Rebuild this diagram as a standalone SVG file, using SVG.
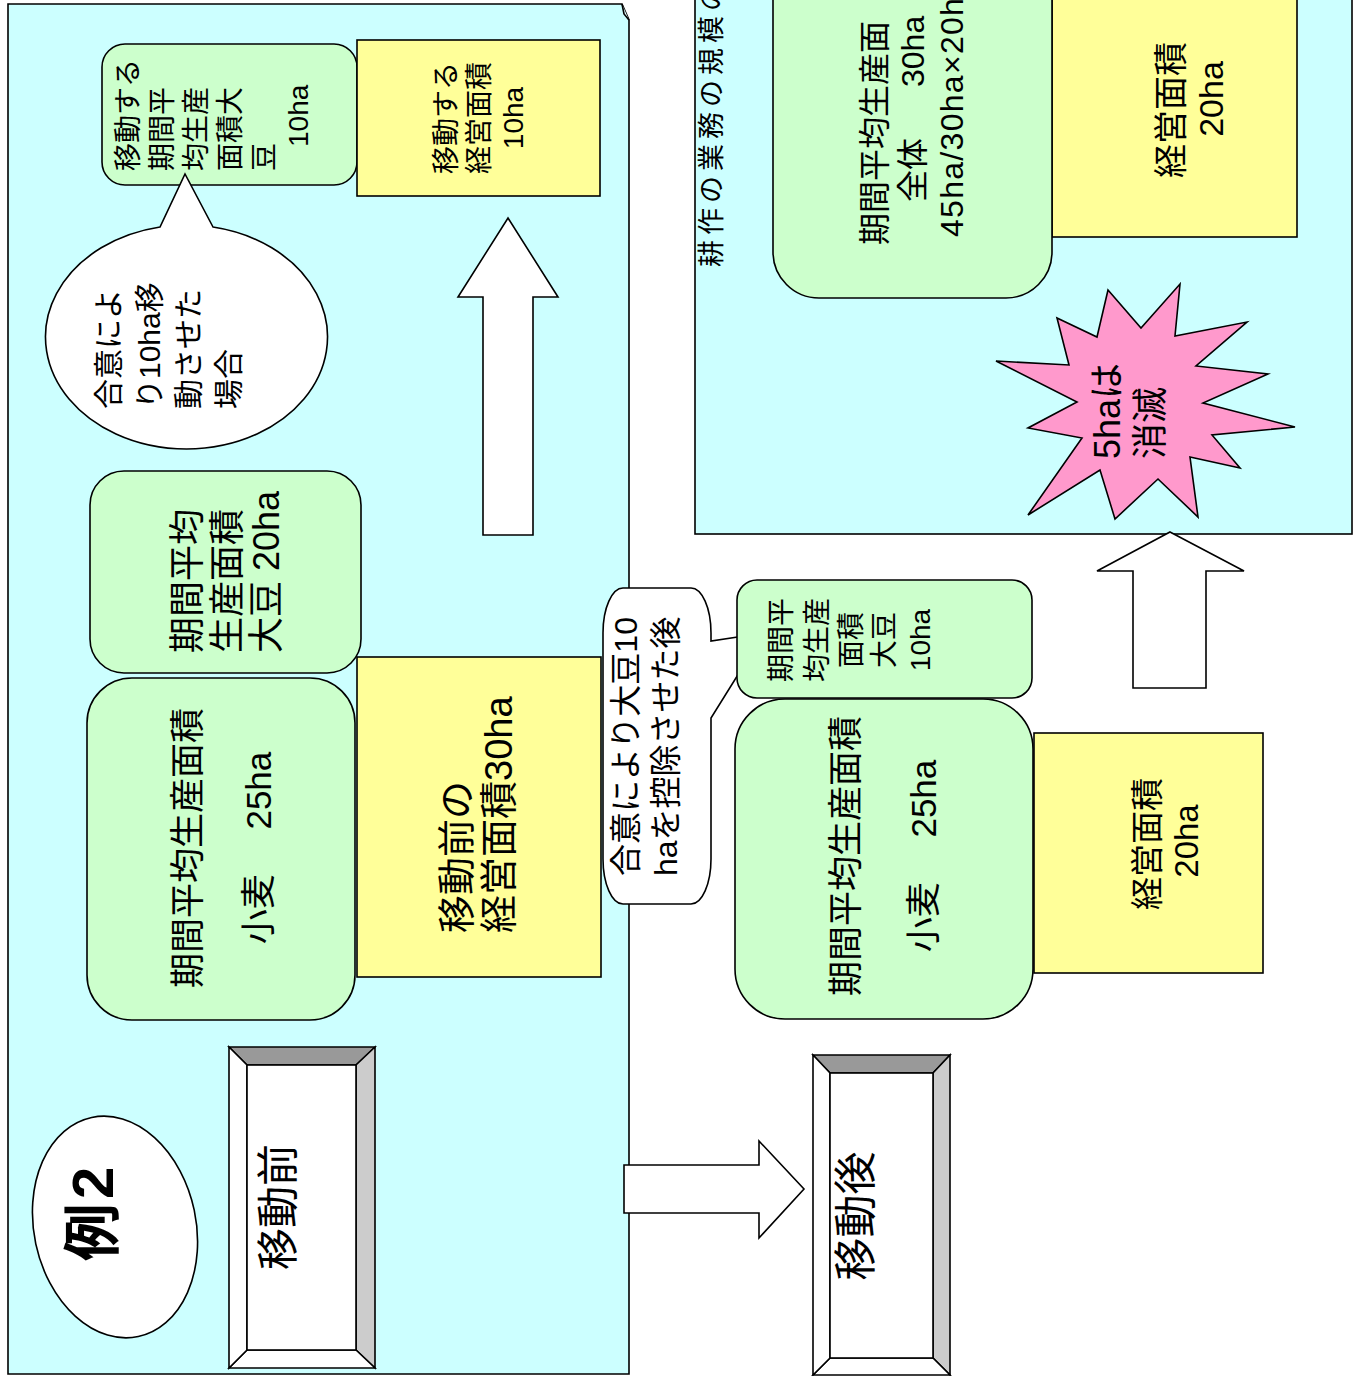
<svg xmlns="http://www.w3.org/2000/svg" width="1356" height="1376" viewBox="0 0 1356 1376">
<style>
.cy{fill:#ccffff;stroke:#000;stroke-width:1.6}
.gr{fill:#ccffcc;stroke:#000;stroke-width:1.6}
.ye{fill:#ffff99;stroke:#000;stroke-width:1.6}
.wh{fill:#ffffff;stroke:#000;stroke-width:1.6}
.pk{fill:#ff99cc;stroke:#000;stroke-width:1.6}
.dk{fill:#999999;stroke:#000;stroke-width:1.6}
.lt{fill:#cccccc;stroke:#000;stroke-width:1.6}
text{font-family:"Liberation Sans","Noto Sans CJK JP",sans-serif;fill:#000;dominant-baseline:central}
.m{text-anchor:middle}
</style>
<rect width="1356" height="1376" fill="#ffffff"/>

<g id="panel-before">
<path class="cy" d="M8,4 H622 L629,20 V1374 H8 Z"/>
<path d="M622,4 L624,14 L629,20" fill="#e6ffff" stroke="#000" stroke-width="1.6"/>
</g>

<g id="panel-after">
<rect class="cy" x="695" y="-10" width="657" height="544"/>
<text font-size="27" letter-spacing="5" transform="rotate(-90)" x="-267" y="712">耕作の業務の規模の</text>
</g>

<g id="node-move-soy-prod">
<rect class="gr" x="102" y="44" width="255" height="141" rx="23"/>
<text font-size="28" transform="rotate(-90)"><tspan x="-171" y="128">移動する</tspan><tspan x="-171" y="162">期間平</tspan><tspan x="-171" y="196">均生産</tspan><tspan x="-171" y="230">面積大</tspan><tspan x="-171" y="264">豆</tspan><tspan x="-147" y="298">10ha</tspan></text>
</g>

<g id="node-move-mgmt">
<rect class="ye" x="357" y="40" width="243" height="156"/>
<text class="m" font-size="28" transform="rotate(-90)"><tspan x="-118" y="446">移動する</tspan><tspan x="-118" y="479">経営面積</tspan><tspan x="-118" y="513">10ha</tspan></text>
</g>

<g id="node-callout-agree">
<path class="wh" d="M213,227 L185,174 L160,227 A141,112 0 1 0 213,227 Z"/>
<text font-size="30" transform="rotate(-90)"><tspan x="-409" y="108">合意によ</tspan><tspan x="-409" y="149">り10ha移</tspan><tspan x="-409" y="188">動させた</tspan><tspan x="-409" y="228">場合</tspan></text>
</g>

<g id="node-before-mgmt">
<rect class="ye" x="357" y="657" width="244" height="320"/>
<text font-size="38" transform="rotate(-90)"><tspan x="-933" y="457">移動前の</tspan><tspan x="-933" y="499">経営面積30ha</tspan></text>
</g>

<g id="node-before-soy">
<rect class="gr" x="90" y="471" width="271" height="202" rx="34"/>
<text font-size="36" transform="rotate(-90)"><tspan x="-653" y="187">期間平均</tspan><tspan x="-653" y="227">生産面積</tspan><tspan x="-653" y="266">大豆  20ha</tspan></text>
</g>

<g id="node-before-wheat">
<rect class="gr" x="87" y="678" width="268" height="342" rx="45"/>
<text class="m" font-size="35" transform="rotate(-90)"><tspan x="-848" y="187">期間平均生産面積</tspan><tspan x="-848" y="258">小麦　 25ha</tspan></text>
</g>

<g id="node-example">
<ellipse class="wh" cx="115" cy="1227" rx="81" ry="112" transform="rotate(-12 115 1227)"/>
<text class="m" font-size="58" font-weight="bold" letter-spacing="4" transform="rotate(-90)" x="-1212" y="92">例2</text>
</g>

<g id="node-label-before">
<polygon class="dk" points="229,1047 375,1047 356,1065 247,1065"/>
<polygon class="lt" points="375,1047 375,1368 356,1350 356,1065"/>
<polygon class="wh" points="229,1368 375,1368 356,1350 247,1350"/>
<polygon class="wh" points="229,1047 247,1065 247,1350 229,1368"/>
<rect class="wh" x="247" y="1065" width="109" height="285"/>
<text class="m" font-size="42" transform="rotate(-90)" x="-1207" y="278">移動前</text>
</g>

<g id="node-callout-after">
<path class="wh" d="M623,588 H691 A20,45 0 0 1 711,633 V641 L764,633 L711,718 V859 A20,45 0 0 1 691,904 H623 A20,45 0 0 1 603,859 V633 A20,45 0 0 1 623,588 Z"/>
<text font-size="32" transform="rotate(-90)"><tspan x="-876" y="626">合意により大豆10</tspan><tspan x="-876" y="666">haを控除させた後</tspan></text>
</g>

<g id="node-after-soy">
<rect class="gr" x="737" y="580" width="295" height="118" rx="20"/>
<text class="m" font-size="28" transform="rotate(-90)"><tspan x="-640" y="781">期間平</tspan><tspan x="-640" y="817">均生産</tspan><tspan x="-640" y="851">面積</tspan><tspan x="-640" y="884">大豆</tspan><tspan x="-640" y="920">10ha</tspan></text>
</g>

<g id="node-after-wheat">
<rect class="gr" x="735" y="699" width="298" height="320" rx="50"/>
<text class="m" font-size="35" transform="rotate(-90)"><tspan x="-856" y="845">期間平均生産面積</tspan><tspan x="-856" y="923">小麦　 25ha</tspan></text>
</g>

<g id="node-after-mgmt">
<rect class="ye" x="1034" y="733" width="229" height="240"/>
<text class="m" font-size="33" transform="rotate(-90)"><tspan x="-844" y="1147">経営面積</tspan><tspan x="-841" y="1186">20ha</tspan></text>
</g>

<g id="node-label-after">
<polygon class="dk" points="813,1055 950,1055 933,1073 830,1073"/>
<polygon class="lt" points="950,1055 950,1375 933,1358 933,1073"/>
<polygon class="wh" points="813,1375 950,1375 933,1358 830,1358"/>
<polygon class="wh" points="813,1055 830,1073 830,1358 813,1375"/>
<rect class="wh" x="830" y="1073" width="103" height="285"/>
<text class="m" font-size="43" transform="rotate(-90)" x="-1216" y="856">移動後</text>
</g>

<g id="node-result-mgmt">
<rect class="ye" x="1052" y="-20" width="245" height="257"/>
<text class="m" font-size="34" transform="rotate(-90)"><tspan x="-110" y="1171">経営面積</tspan><tspan x="-99" y="1211">20ha</tspan></text>
</g>

<g id="node-result-prod">
<rect class="gr" x="773" y="-60" width="279" height="358" rx="46"/>
<text font-size="32" transform="rotate(-90)"><tspan x="-245" y="875">期間平均生産面</tspan><tspan x="-202" y="913">全体</tspan><tspan x="-87" y="913">30ha</tspan><tspan x="-237" y="952" textLength="258" lengthAdjust="spacing">45ha/30ha×20ha</tspan></text>
</g>

<g id="node-vanish">
<polygon class="pk" points="1108,290 1141,328 1180,284 1175,336 1247,322 1196,366 1268,374 1203,403 1295,427 1212,435 1240,468 1190,457 1198,517 1158,479 1115,519 1100,470 1028,515 1082,438 1028,428 1077,402 996,361 1069,365 1057,318 1097,337"/>
<text font-size="36" transform="rotate(-90)"><tspan x="-459" y="1107">5haは</tspan><tspan x="-459" y="1150">消滅</tspan></text>
</g>

<g id="connectors">
<polygon class="wh" points="508,218 558,297 533,297 533,535 483,535 483,297 458,297"/>
<polygon class="wh" points="624,1165 759,1165 759,1141 804,1189 759,1238 759,1213 624,1213"/>
<polygon class="wh" points="1170,532 1244,571 1206,571 1206,688 1133,688 1133,571 1097,571"/>
</g>
</svg>
